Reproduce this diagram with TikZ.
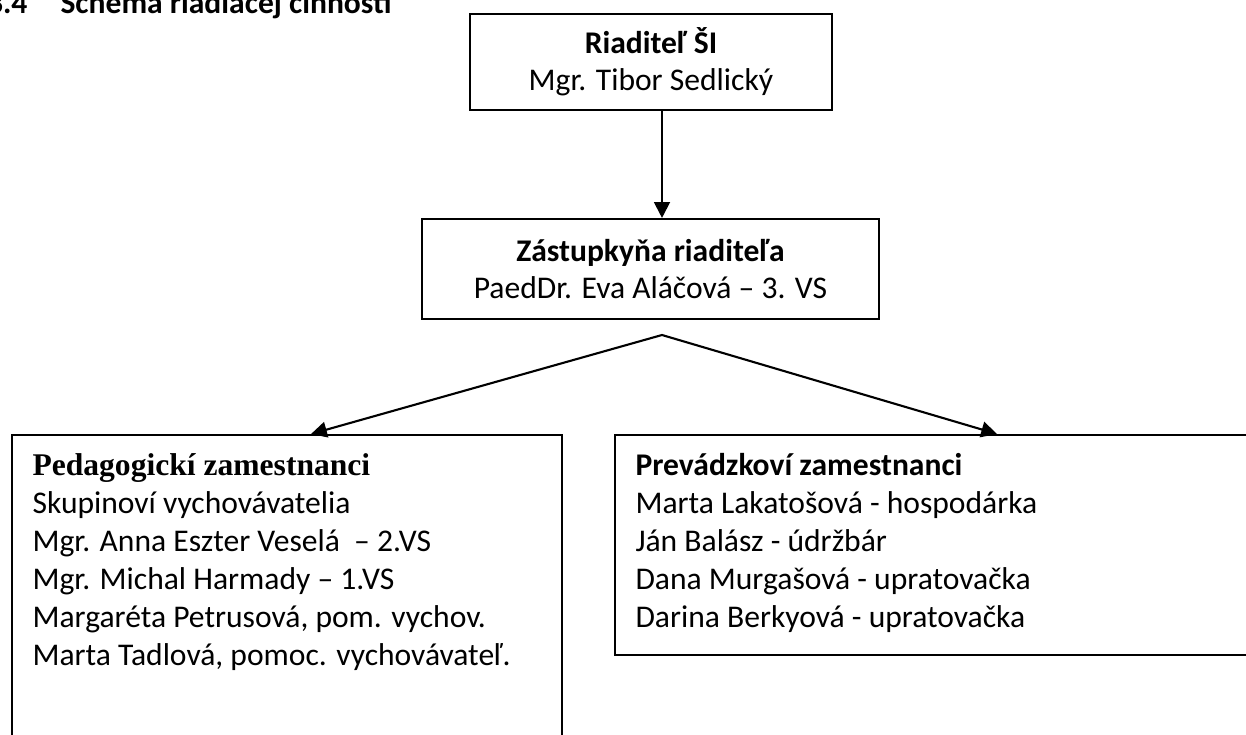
\documentclass[tikz,border=0pt]{standalone}
\usepackage{fontspec}
\setmainfont{Carlito}
\newfontfamily\timesfont{Liberation Serif}
\usetikzlibrary{arrows.meta}
\tikzset{
  box/.style={draw, line width=0.8pt, inner sep=0pt},
  link/.style={line width=0.8pt},
  txt/.style={anchor=base west, inner sep=0pt},
}
\begin{document}
\begin{tikzpicture}[x=0.38pt,y=-0.38pt,font=\fontsize{12}{14.06}\selectfont,
    >={Triangle[length=6pt,width=6pt]}]
  \useasboundingbox (0,0) rectangle (1246,735);
  % heading
  \node[txt, anchor=base east, font=\fontsize{12}{14}\selectfont\bfseries] (num) at (28,13) {3.4};
  \node[txt, font=\fontsize{12}{14}\selectfont\bfseries] (title) at (60,13) {Schéma riadiacej činnosti};
  % boxes
  \node[box, minimum width=362*0.38pt, minimum height=96*0.38pt, align=center] (riad) at (651,62)
    {\textbf{Riaditeľ ŠI}\\Mgr. Tibor Sedlický};
  \node[box, minimum width=457*0.38pt, minimum height=100*0.38pt, align=center] (zast) at (650.5,269)
    {\textbf{Zástupkyňa riaditeľa}\\PaedDr. Eva Aláčová – 3. VS};
  \node[box, anchor=north west, minimum width=550*0.38pt, minimum height=360*0.38pt] (ped) at (11,434) {};
  \node[box, anchor=north west, minimum width=764*0.38pt, minimum height=220*0.38pt] (prev) at (614,434) {};
  % texts of the two lower boxes
  \node[txt, font=\fontsize{12}{14}\selectfont\timesfont\bfseries] (pedhead) at (32,475) {Pedagogickí zamestnanci};
  \foreach \line [count=\i from 1] in {{Skupinoví vychovávatelia},
      {Mgr. Anna Eszter Veselá\ \ – 2.VS}, {Mgr. Michal Harmady – 1.VS},
      {Margaréta Petrusová, pom. vychov.}, {Marta Tadlová, pomoc. vychovávateľ.}}
    \node[txt] (ped\i) at (32,{475+38*\i}) {\line};
  \node[txt, font=\fontsize{12}{14}\selectfont\bfseries] (prevhead) at (635,475) {Prevádzkoví zamestnanci};
  \foreach \line [count=\i from 1] in {{Marta Lakatošová - hospodárka},
      {Ján Balász - údržbár}, {Dana Murgašová - upratovačka},
      {Darina Berkyová - upratovačka}}
    \node[txt] (prev\i) at (635,{475+38*\i}) {\line};
  % connectors
  \coordinate (fork) at (662,335);
  \draw[link, ->] (fork |- riad.south) -- (fork |- zast.north);
  \draw[link, <->] ([xshift=24*0.38pt]ped.north) -- (fork) -- (prev.north);
\end{tikzpicture}
\end{document}
